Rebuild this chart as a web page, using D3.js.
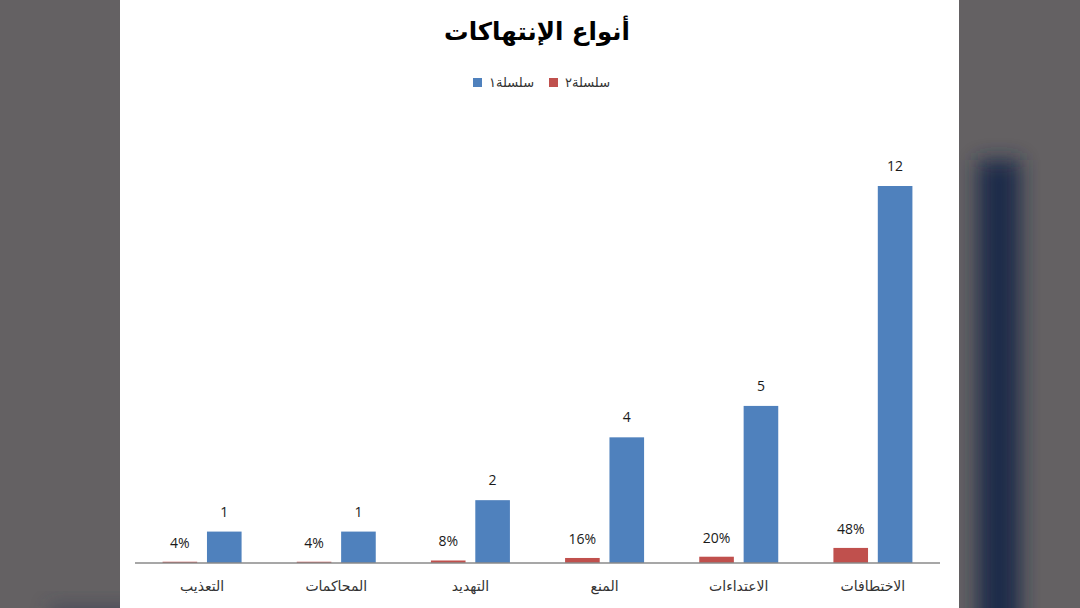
<!DOCTYPE html>
<html>
<head>
<meta charset="utf-8">
<script src="https://cdn.jsdelivr.net/npm/d3@7"></script>
<style>
  html, body { margin: 0; padding: 0; background: #646163; }
  svg { display: block; }
</style>
</head>
<body>
<div id="chart"></div>
<script>
const W = 1080;
const H = 608;

const chartTitle = 'أنواع الإنتهاكات';
const categories = ['الاختطافات', 'الاعتداءات', 'المنع', 'التهديد', 'المحاكمات', 'التعذيب'];
const series1 = [12, 5, 4, 2, 1, 1];
const series2 = [0.48, 0.20, 0.16, 0.08, 0.04, 0.04];
const seriesNames = ['سلسلة١', 'سلسلة٢'];
const colors = { s1: '#4F81BD', s2: '#C0504D' };

const panel = { left: 120, right: 959 };
const plot = { left: 135, right: 940, top: 186, bottom: 563 };

const svg = d3.select('#chart').append('svg')
  .attr('width', W)
  .attr('height', H);

// blurred background behind the slide
const defs = svg.append('defs');
defs.append('filter').attr('id', 'blur')
  .attr('x', '-50%').attr('y', '-50%').attr('width', '200%').attr('height', '200%')
  .append('feGaussianBlur').attr('stdDeviation', 10);

svg.append('rect').attr('width', W).attr('height', H).attr('fill', '#646163');
svg.append('rect')
  .attr('x', 978).attr('y', 160).attr('width', 42).attr('height', 480)
  .attr('fill', '#1a2a48')
  .attr('filter', 'url(#blur)');
svg.append('rect')
  .attr('x', 50).attr('y', 606).attr('width', 90).attr('height', 30)
  .attr('fill', '#2a3550')
  .attr('opacity', 0.5)
  .attr('filter', 'url(#blur)');

svg.append('rect')
  .attr('x', panel.left).attr('y', 0)
  .attr('width', panel.right - panel.left).attr('height', H)
  .attr('fill', '#ffffff');

// title
svg.append('text')
  .attr('x', 537).attr('y', 40)
  .attr('text-anchor', 'middle')
  .attr('direction', 'rtl')
  .attr('font-family', '"DejaVu Sans", sans-serif')
  .attr('font-weight', 'bold')
  .attr('font-size', 24.5)
  .attr('fill', '#000')
  .text(chartTitle);

// legend
const legendItems = [
  { key: 's1', name: seriesNames[0], x: 473 },
  { key: 's2', name: seriesNames[1], x: 549 }
];
const legend = svg.append('g').attr('class', 'legend');
legendItems.forEach(d => {
  legend.append('rect')
    .attr('x', d.x).attr('y', 78).attr('width', 9).attr('height', 9)
    .attr('fill', colors[d.key]);
  legend.append('text')
    .attr('x', d.x + 16).attr('y', 87)
    .attr('text-anchor', 'end')
    .attr('direction', 'rtl')
    .attr('font-family', '"DejaVu Sans", sans-serif')
    .attr('font-size', 13)
    .attr('fill', '#333')
    .text(d.name);
});

// scales
const x0 = d3.scaleBand()
  .domain(categories.slice().reverse())
  .range([plot.left, plot.right]);

const x1 = d3.scaleBand()
  .domain(['s2', 's1'])
  .range([-39.5, 39.5])
  .paddingInner(0.22);

const y = d3.scaleLinear()
  .domain([0, 12])
  .range([plot.bottom, plot.top]);

const rows = categories.map((c, i) => ({ cat: c, s1: series1[i], s2: series2[i] }));

const groups = svg.append('g').selectAll('g')
  .data(rows)
  .join('g')
  .attr('transform', d => `translate(${x0(d.cat) + x0.bandwidth() / 2},0)`);

groups.append('rect')
  .attr('x', x1('s2'))
  .attr('width', x1.bandwidth())
  .attr('y', d => y(d.s2))
  .attr('height', d => y(0) - y(d.s2))
  .attr('fill', colors.s2);

groups.append('rect')
  .attr('x', x1('s1'))
  .attr('width', x1.bandwidth())
  .attr('y', d => y(d.s1))
  .attr('height', d => y(0) - y(d.s1))
  .attr('fill', colors.s1);

const pct = d3.format('.0%');

groups.append('text')
  .attr('x', x1('s2') + x1.bandwidth() / 2)
  .attr('y', d => y(d.s2) - 14)
  .attr('text-anchor', 'middle')
  .attr('font-family', '"Open Sans", sans-serif')
  .attr('font-size', 14)
  .attr('fill', '#1a1a1a')
  .text(d => pct(d.s2));

groups.append('text')
  .attr('x', x1('s1') + x1.bandwidth() / 2)
  .attr('y', d => y(d.s1) - 15)
  .attr('text-anchor', 'middle')
  .attr('font-family', '"Open Sans", sans-serif')
  .attr('font-size', 14)
  .attr('fill', '#1a1a1a')
  .text(d => d.s1);

// x axis
const xAxis = svg.append('g')
  .attr('transform', `translate(0,${plot.bottom})`)
  .call(d3.axisBottom(x0).tickSize(0).tickPadding(0));
xAxis.select('.domain').attr('stroke', '#8a8a8a').attr('stroke-width', 1.5).attr('d', `M${plot.left},0H${plot.right}`);
xAxis.selectAll('.tick text')
  .attr('y', 28)
  .attr('dy', 0)
  .attr('direction', 'rtl')
  .attr('font-family', '"DejaVu Sans", sans-serif')
  .attr('font-size', 14)
  .attr('fill', '#333');
</script>
</body>
</html>
